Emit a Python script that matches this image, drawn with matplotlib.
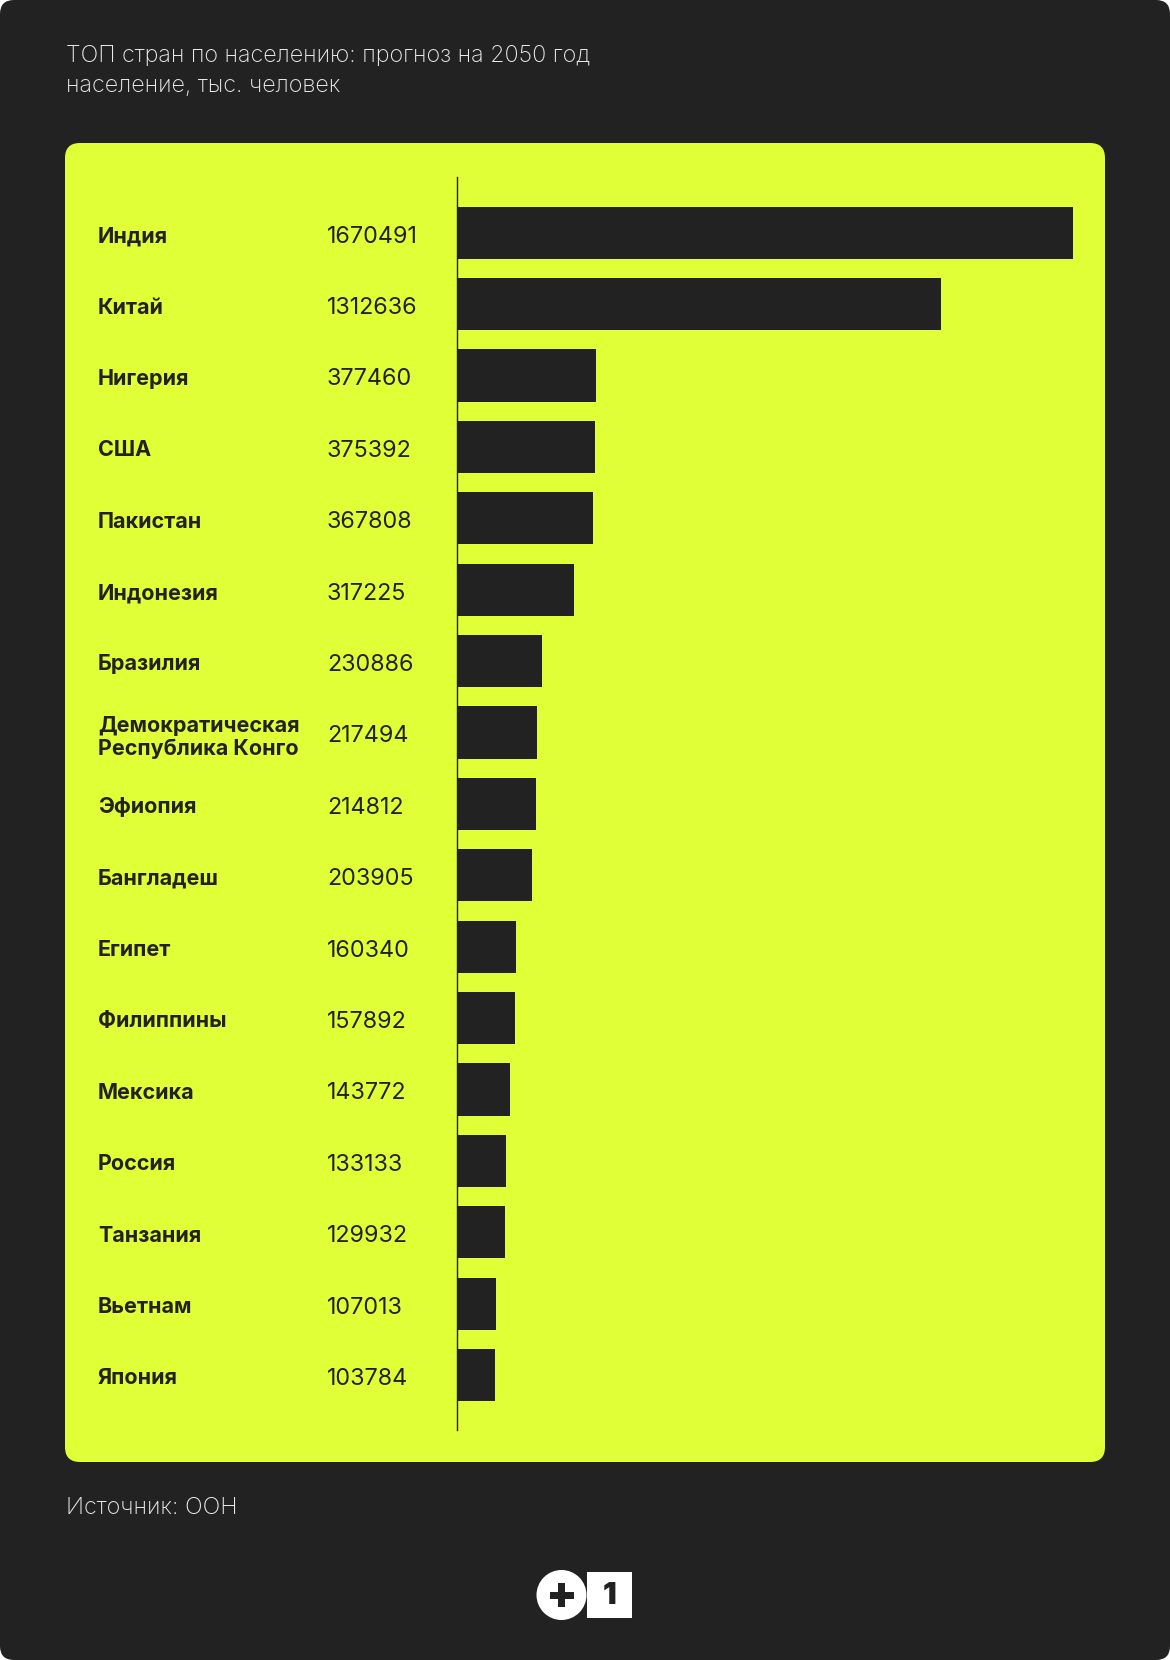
import matplotlib
matplotlib.use("Agg")
import matplotlib.pyplot as plt
from matplotlib.patches import FancyBboxPatch, Circle, Rectangle
import numpy as np

plt.rcParams['font.family'] = ['Inter', 'DejaVu Sans']

countries = ['Индия', 'Китай', 'Нигерия', 'США', 'Пакистан', 'Индонезия',
             'Бразилия', 'Демократическая\nРеспублика Конго', 'Эфиопия',
             'Бангладеш', 'Египет', 'Филиппины', 'Мексика', 'Россия',
             'Танзания', 'Вьетнам', 'Япония']
population = [1670491, 1312636, 377460, 375392, 367808, 317225, 230886,
              217494, 214812, 203905, 160340, 157892, 143772, 133133,
              129932, 107013, 103784]

title = 'ТОП стран по населению: прогноз на 2050 год'
subtitle = 'население, тыс. человек'
source = 'Источник: ООН'

DARK = '#222222'
YELLOW = '#e0ff36'
W, H = 1170, 1660

fig = plt.figure(figsize=(W / 100, H / 100), dpi=100)
fig.patch.set_facecolor('white')

# background layer in pixel coordinates
bg = fig.add_axes([0, 0, 1, 1])
bg.set_xlim(0, W)
bg.set_ylim(H, 0)
bg.axis('off')
bg.add_patch(FancyBboxPatch((0, 0), W, H, boxstyle='round,pad=0,rounding_size=14',
                            fc=DARK, ec='none'))
bg.add_patch(FancyBboxPatch((65, 143), 1105 - 65, 1462 - 143,
                            boxstyle='round,pad=0,rounding_size=15',
                            fc=YELLOW, ec='none'))
bg.text(66, 54, title, color='#ececec', fontsize=16.8, fontweight='light',
        va='center_baseline')
bg.text(66, 84, subtitle, color='#ececec', fontsize=16.8, fontweight='light',
        va='center_baseline')
bg.text(66, 1505, source, color='#ececec', fontsize=16.8, fontweight='light',
        va='center_baseline')

# logo
bg.add_patch(Circle((561.5, 1595), 25, fc='white', ec='none'))
bg.add_patch(Rectangle((-12 + 561.5, -3.5 + 1595), 24, 7, fc=DARK, ec='none'))
bg.add_patch(Rectangle((-3.5 + 561.5, -12 + 1595), 7, 24, fc=DARK, ec='none'))
bg.add_patch(Rectangle((587, 1572), 45, 46, fc='white', ec='none'))
bg.text(609.5, 1596, '1', color=DARK, fontsize=22, fontweight='black',
        ha='center', va='center')

# bar chart
left, right, top, bottom = 457, 1073, 177, 1430
ax = fig.add_axes([left / W, 1 - bottom / H, (right - left) / W, (bottom - top) / H])
ax.set_facecolor('none')
y = np.arange(len(countries))
ax.barh(y, population, height=0.73, color=DARK, left=0)
ax.set_xlim(0, max(population))
ax.set_ylim(len(countries) - 1 + 0.77, -0.78)
for s in ['top', 'right', 'bottom']:
    ax.spines[s].set_visible(False)
ax.spines['left'].set_color(DARK)
ax.spines['left'].set_linewidth(1.0)
ax.set_xticks([])
ax.set_yticks([])

tr = ax.get_yaxis_transform()
lab_x = (98 - left) / (right - left)
val_x = (327 - left) / (right - left)
for i, (c, v) in enumerate(zip(countries, population)):
    if '\n' in c:
        ax.text(lab_x, i + 0.07, c, transform=tr, fontsize=15.5, fontweight='bold',
                color=DARK, va='center', ha='left', linespacing=1.12, clip_on=False)
    else:
        ax.text(lab_x, i + 0.02, c, transform=tr, fontsize=15.5, fontweight='bold',
                color=DARK, va='center_baseline', ha='left', clip_on=False)
    ax.text(val_x, i + 0.02, str(v), transform=tr, fontsize=16.8, color=DARK,
            va='center_baseline', ha='left', clip_on=False)

fig.savefig('out.png', dpi=100, facecolor='white')
